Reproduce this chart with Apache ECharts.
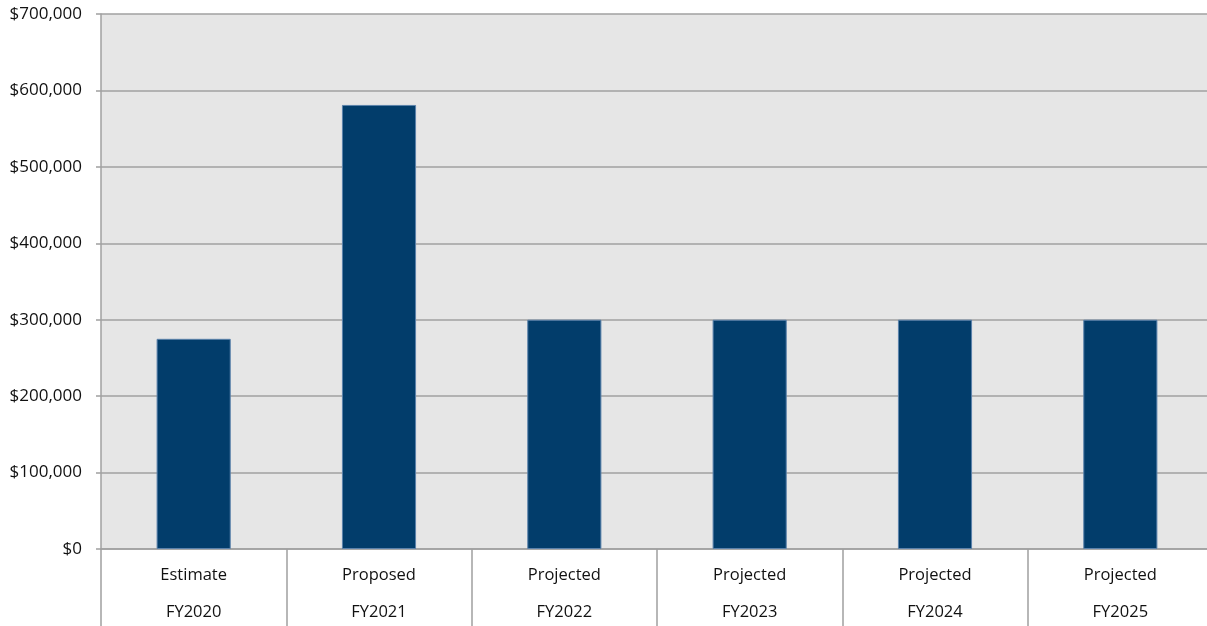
<!DOCTYPE html>
<html>
<head>
<meta charset="utf-8">
<script src="https://cdn.jsdelivr.net/npm/echarts@6/dist/echarts.min.js"></script>
<style>
  html, body { margin: 0; padding: 0; background: #fff; overflow: hidden; }
  /* plot area runs a few pixels past the right edge of the picture */
  #chart { width: 1213px; height: 626px; }
</style>
</head>
<body>
<div id="chart"></div>
<script>
// budget by fiscal year
var stages = ['Estimate', 'Proposed', 'Projected', 'Projected', 'Projected', 'Projected'];
var years = ['FY2020', 'FY2021', 'FY2022', 'FY2023', 'FY2024', 'FY2025'];
var amounts = [275000, 581000, 300000, 300000, 300000, 300000];
var yTicks = { min: 0, max: 700000, interval: 100000 };

var font = '"Open Sans", "Noto Sans", sans-serif';
var gray = '#a0a0a0';

var chart = echarts.init(document.getElementById('chart'));
chart.setOption({
  animation: false,
  textStyle: { fontFamily: font },
  grid: {
    left: 101, top: 14, right: 0, bottom: 77,
    show: true, backgroundColor: '#e6e6e6', borderWidth: 0
  },
  xAxis: [{
    type: 'category',
    data: stages,
    position: 'bottom',
    axisLine: { lineStyle: { color: gray, width: 1.5 } },
    axisTick: { show: true, interval: 0, length: 77, lineStyle: { color: gray, width: 1.5 } },
    axisLabel: { interval: 0, margin: 18, fontSize: 16.5, color: '#111', fontFamily: font }
  }, {
    type: 'category',
    data: years,
    position: 'bottom',
    offset: 37,
    axisLine: { show: false },
    axisTick: { show: false },
    axisLabel: { interval: 0, margin: 18, fontSize: 16.5, color: '#111', fontFamily: font }
  }],
  yAxis: {
    type: 'value',
    min: yTicks.min,
    max: yTicks.max,
    interval: yTicks.interval,
    axisLine: { show: true, lineStyle: { color: gray, width: 1.5 } },
    axisTick: { show: true, length: 5, lineStyle: { color: gray, width: 1.5 } },
    splitLine: { lineStyle: { color: gray, width: 1.5 } },
    axisLabel: {
      margin: 19, fontSize: 17, color: '#111', fontFamily: font,
      formatter: function (v) { return '$' + v.toLocaleString('en-US'); }
    }
  },
  series: [{
    type: 'bar',
    xAxisIndex: 0,
    data: amounts,
    barWidth: '40%',
    itemStyle: { color: '#023d6b', borderColor: '#5b82ab', borderWidth: 1 }
  }]
});
</script>
</body>
</html>
